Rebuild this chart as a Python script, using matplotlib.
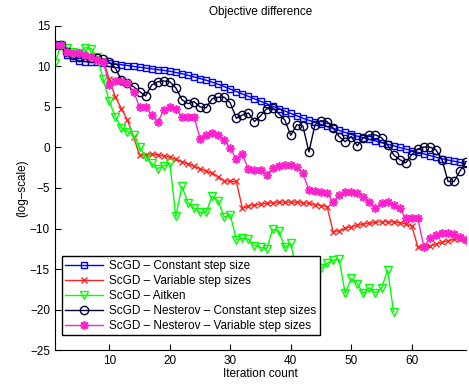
import numpy as np
import matplotlib
matplotlib.use('Agg')
import matplotlib.pyplot as plt

plt.rcParams['font.family'] = ['Liberation Sans', 'DejaVu Sans']

# iteration index (1..69)
it = list(range(1, 70))

const_step = [12.7, 12.7, 11.4, 11.0, 10.7, 10.6, 10.5, 10.5, 10.45, 10.4,
              10.3, 10.2, 10.1, 10.0, 9.9, 9.8, 9.7, 9.6, 9.5, 9.4,
              9.25, 9.1, 8.9, 8.7, 8.5, 8.3, 8.05, 7.8, 7.5, 7.2,
              6.9, 6.6, 6.3, 6.0, 5.7, 5.4, 5.1, 4.8, 4.5, 4.2,
              3.9, 3.6, 3.35, 3.1, 2.85, 2.6, 2.35, 2.1, 1.85, 1.6,
              1.4, 1.2, 1.0, 0.8, 0.6, 0.4, 0.2, 0.0, -0.2, -0.4,
              -0.6, -0.8, -1.0, -1.2, -1.4, -1.55, -1.7, -1.85, -2.0]

var_step = [12.7, 12.7, 12.0, 11.6, 11.4, 11.3, 11.1, 11.0, 10.8, 8.4,
            6.2, 4.8, 3.4, 1.3, -0.93, -0.92, -0.85, -0.92, -1.05, -1.2,
            -1.45, -1.75, -2.03, -2.3, -2.6, -2.9, -3.2, -3.6, -4.1, -4.2,
            -4.2, -7.5, -7.22, -7.1, -6.98, -6.89, -6.81, -6.77, -6.73, -6.73,
            -6.77, -6.81, -6.89, -7.06, -7.18, -7.3, -10.39, -10.27, -9.98, -9.77,
            -9.57, -9.44, -9.36, -9.24, -9.16, -9.16, -9.2, -9.28, -9.44, -9.69,
            -12.24, -12.33, -12.16, -11.91, -11.71, -11.5, -11.34, -11.25, -11.34]

aitken = [10.4, 12.6, 12.3, 11.8, 11.6, 12.3, 12.2, 11.2, 8.4, 5.7,
          3.8, 2.4, 1.96, 1.55, 0.1, -1.13, -1.95, -2.6, -2.3, -1.95,
          -8.5, -4.8, -6.8, -7.5, -8.0, -8.0, -6.0, -6.6, -8.6, -8.3,
          -11.4, -11.2, -11.3, -12.1, -12.3, -12.57, -10.1, -10.27, -12.33, -11.83,
          -15.5, -14.5, -16.0, -15.2, -14.9, -14.3, -13.9, -13.8, -18.0, -16.15,
          -16.8, -18.0, -17.3, -17.9, -17.4, -15.1, -20.27]

nest_const = [12.7, 12.7, 11.8, 11.4, 11.2, 11.1, 11.0, 11.0, 10.9, 10.5,
              9.8, 8.3, 7.9, 7.5, 6.9, 6.35, 7.7, 8.1, 8.2, 8.1,
              7.35, 5.9, 5.4, 5.65, 5.0, 4.9, 6.0, 6.2, 6.2, 5.5,
              3.6, 4.0, 4.25, 3.2, 3.9, 4.75, 4.9, 4.2, 3.4, 1.5,
              2.8, 2.65, -0.55, 2.8, 3.3, 3.2, 2.4, 1.35, 0.7, 1.35,
              0.2, 1.2, 1.55, 1.55, 1.2, 0.3, -0.9, -1.5, -1.9, -0.9,
              -0.2, 0.05, 0.05, -0.3, -1.5, -4.2, -4.2, -2.85, -1.8]

nest_var = [12.7, 12.7, 11.8, 11.6, 11.6, 11.4, 11.2, 10.8, 10.6, 7.7,
            8.2, 8.2, 7.9, 6.9, 5.0, 5.0, 4.0, 3.1, 4.6, 5.0,
            4.8, 3.8, 3.8, 3.8, 1.1, 1.5, 1.75, 1.5, 0.9, -0.1,
            -1.45, -0.8, -2.7, -2.75, -2.78, -3.4, -2.57, -2.28, -2.16, -2.16,
            -2.45, -3.19, -5.25, -5.33, -5.45, -5.66, -6.69, -5.86, -5.45, -5.45,
            -5.66, -6.07, -6.69, -7.51, -6.89, -6.69, -7.1, -7.51, -8.75, -8.75,
            -8.75, -12.24, -11.21, -10.8, -10.51, -10.6, -10.68, -11.09, -11.42]

labels = ['ScGD – Constant step size',
          'ScGD – Variable step sizes',
          'ScGD – Aitken',
          'ScGD – Nesterov – Constant step sizes',
          'ScGD – Nesterov – Variable step sizes']

fig = plt.figure(figsize=(4.69, 3.86), dpi=100)
ax = fig.add_axes([0.117, 0.093, 0.877, 0.840])

ax.plot(it, const_step, '-s', color='#0000ff', lw=1, ms=4.5, mfc='none', mew=1, label=labels[0])
ax.plot(it, var_step, '-x', color='#ff2525', lw=1, ms=4.5, mew=1, label=labels[1])
ax.plot(it[:len(aitken)], aitken, '-v', color='#00ff00', lw=1, ms=6, mfc='none', mew=1, label=labels[2])
ax.plot(it, nest_const, '-o', color='#000033', lw=1, ms=6, mfc='none', mew=1, label=labels[3])
# matlab-like asterisk marker
ax.plot(it, nest_var, '-', marker=(8, 2, 0), color='#ff22cc', lw=1, ms=6, mew=1.2, label=labels[4])

ax.set_xlim(1, 69)
ax.set_ylim(-25, 15)
ax.set_xticks([10, 20, 30, 40, 50, 60])
ax.set_yticks(np.arange(-25, 16, 5))
ax.set_yticklabels(['\u221225', '\u221220', '\u221215', '\u221210', '\u22125', '0', '5', '10', '15'])
ax.tick_params(direction='in', labelsize=8.5, length=4)
ax.spines['top'].set_visible(False)
ax.spines['right'].set_visible(False)
ax.set_xlabel('Iteration count', fontsize=8.5, labelpad=1)
ax.set_ylabel('(log–scale)', fontsize=8.5, labelpad=1)
ax.set_title('Objective difference', fontsize=8.5, pad=8)

leg = ax.legend(loc='lower left', bbox_to_anchor=(0.017, 0.046), borderaxespad=0,
                fontsize=8.5, frameon=True, fancybox=False, edgecolor='black',
                handlelength=3.2, labelspacing=0.25, borderpad=0.3, handletextpad=0.5)
leg.get_frame().set_linewidth(1)
leg.get_frame().set_alpha(1)

fig.savefig('out.png', dpi=100)
